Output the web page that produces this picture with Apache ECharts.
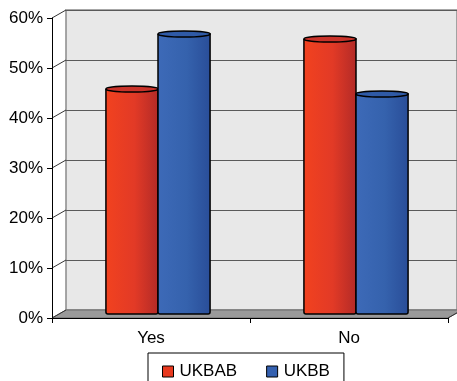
<!DOCTYPE html>
<html><head><meta charset="utf-8">
<script src="https://cdn.jsdelivr.net/npm/echarts@6/dist/echarts.min.js"></script>
<style>html,body{margin:0;padding:0;background:#fff}#c{width:457px;height:381px}</style>
</head><body><div id="c"></div>
<script>
const categories = ['Yes', 'No'];
const seriesNames = ['UKBAB', 'UKBB'];
const ukbab = [45, 55];
const ukbb = [56, 44];
const yMin = 0, yMax = 60, yInterval = 10;

const FRONT = {left: 52, top: 18, width: 396, height: 300};
const DX = 14, DY = -8;
const FONT = 'Liberation Sans, Arial, sans-serif';

const palettes = [
  {stops: ['#f2421f', '#e23a26', '#b22a27'], top: '#c9332a', legend: '#e8391f'},
  {stops: ['#3d6ab8', '#3562ad', '#294d98'], top: '#2f5aa6', legend: '#3561b0'}
];

const chart = echarts.init(document.getElementById('c'), null, {renderer: 'canvas'});

function renderBar(params, api) {
  const ci = api.value(0), v = api.value(1);
  const base = api.coord([ci, 0]);
  const top = api.coord([ci, v]);
  const bw = api.size([1, 0])[0] * 0.263;
  const si = params.seriesIndex;
  const x = base[0] - bw + si * bw;
  const p = palettes[si];
  const grad = new echarts.graphic.LinearGradient(0, 0, 1, 0, [
    {offset: 0, color: p.stops[0]}, {offset: 0.55, color: p.stops[1]}, {offset: 1, color: p.stops[2]}
  ]);
  return {
    type: 'group',
    children: [
      {type: 'rect', shape: {x: x, y: top[1], width: bw, height: base[1] - top[1], r: [0, 0, 2, 2]},
       style: {fill: grad, stroke: '#000', lineWidth: 1.5}},
      {type: 'ellipse', shape: {cx: x + bw / 2, cy: top[1], rx: bw / 2, ry: 3},
       style: {fill: p.top, stroke: '#000', lineWidth: 1.5}}
    ]
  };
}

const hiddenAxis = {show: false};

chart.setOption({
  animation: false,
  grid: [
    {left: FRONT.left + DX, top: FRONT.top + DY, width: FRONT.width, height: FRONT.height,
     show: true, backgroundColor: '#e8e8e8', borderColor: '#8a8a8a', borderWidth: 1.5, z: 0},
    {left: FRONT.left, top: FRONT.top, width: FRONT.width, height: FRONT.height, show: false},
    {left: FRONT.left + DX / 2, top: FRONT.top + DY / 2, width: FRONT.width, height: FRONT.height, show: false}
  ],
  xAxis: [
    {gridIndex: 0, type: 'category', data: categories, show: false},
    {gridIndex: 1, type: 'category', data: categories, z: 5,
     axisLine: {show: true, lineStyle: {color: '#000', width: 1}},
     axisTick: {show: true, length: 5, lineStyle: {color: '#000'}},
     axisLabel: {color: '#000', fontSize: 17, fontFamily: FONT, margin: 12}},
    {gridIndex: 2, type: 'category', data: categories, show: false}
  ],
  yAxis: [
    {gridIndex: 0, type: 'value', min: yMin, max: yMax, interval: yInterval,
     axisLine: {show: false}, axisTick: {show: false}, axisLabel: {show: false},
     splitLine: {show: true, lineStyle: {color: '#5a5a5a', width: 1}}},
    {gridIndex: 1, type: 'value', min: yMin, max: yMax, interval: yInterval, z: 5,
     axisLine: {show: true, lineStyle: {color: '#000', width: 1}},
     axisTick: {show: true, length: 5, lineStyle: {color: '#000'}},
     axisLabel: {color: '#000', fontSize: 17, fontFamily: FONT, margin: 9, formatter: '{value}%'},
     splitLine: {show: false}},
    {gridIndex: 2, type: 'value', min: yMin, max: yMax, interval: yInterval, show: false}
  ],
  legend: {
    data: seriesNames.map((n, i) => ({name: n, itemStyle: {color: palettes[i].legend, borderColor: '#000', borderWidth: 1}})),
    left: 148, top: 353,
    borderColor: '#000', borderWidth: 1,
    padding: [10, 14, 10, 14],
    itemGap: 29, itemWidth: 11, itemHeight: 11, icon: 'rect',
    textStyle: {color: '#000', fontSize: 17, fontFamily: FONT, padding: [0, 0, 0, 1]}
  },
  series: [
    {name: seriesNames[0], type: 'custom', xAxisIndex: 2, yAxisIndex: 2, z: 3,
     itemStyle: {color: palettes[0].legend}, renderItem: renderBar,
     data: ukbab.map((v, i) => [i, v])},
    {name: seriesNames[1], type: 'custom', xAxisIndex: 2, yAxisIndex: 2, z: 3,
     itemStyle: {color: palettes[1].legend}, renderItem: renderBar,
     data: ukbb.map((v, i) => [i, v])}
  ]
});

// 3D decorations: floor and left-side diagonals
const L = FRONT.left, R = FRONT.left + FRONT.width, B = FRONT.top + FRONT.height;
const elements = [{
  type: 'polygon', z: 1,
  shape: {points: [[L, B], [R, B], [R + DX, B + DY], [L + DX, B + DY]]},
  style: {fill: '#9a9a9a', stroke: '#6a6a6a', lineWidth: 1}
}];
for (let t = yMin; t <= yMax; t += yInterval) {
  const yf = chart.convertToPixel({yAxisIndex: 1}, t);
  elements.push({type: 'line', z: 4, shape: {x1: L, y1: yf, x2: L + DX, y2: yf + DY},
    style: {stroke: '#333', lineWidth: 1}});
}
elements.push({type: 'line', z: 4, shape: {x1: R, y1: B, x2: R + DX, y2: B + DY},
  style: {stroke: '#333', lineWidth: 1}});
chart.setOption({graphic: {elements: elements}});
</script>
</body></html>
